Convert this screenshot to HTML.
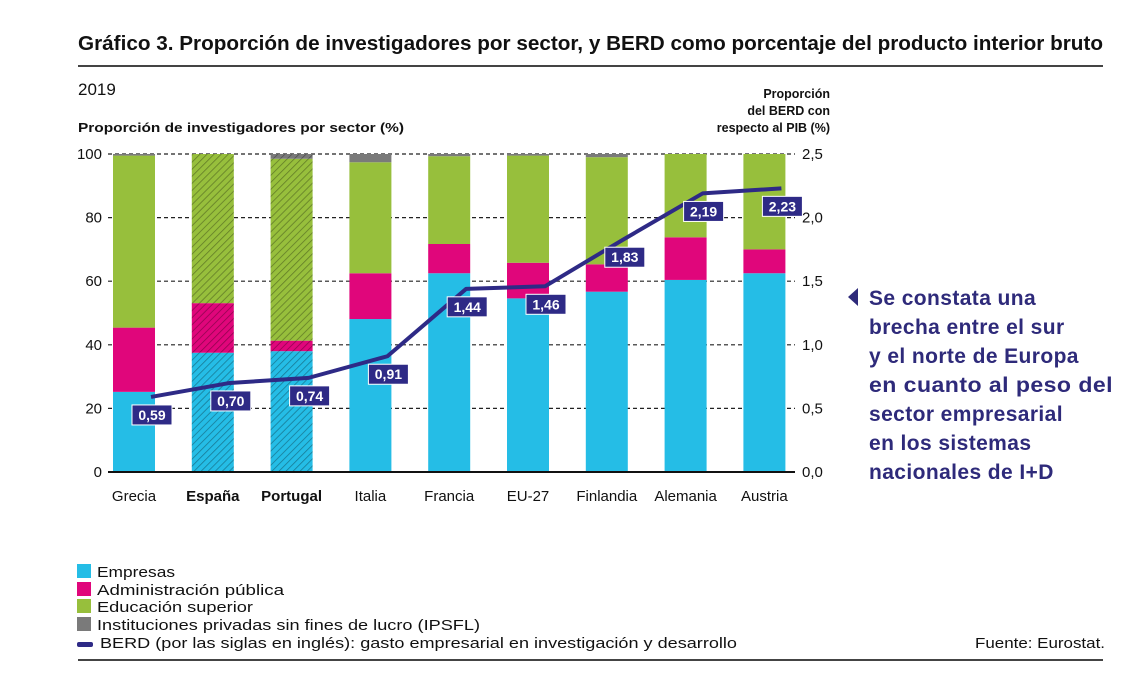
<!DOCTYPE html>
<html><head><meta charset="utf-8"><style>
html,body{margin:0;padding:0;background:#fff;}
body{width:1147px;height:685px;overflow:hidden;font-family:"Liberation Sans",sans-serif;}
</style></head><body>
<svg id="chart" width="1147" height="685" viewBox="0 0 1147 685" xmlns="http://www.w3.org/2000/svg">
<defs>
<pattern id="hatch" width="5" height="5" patternUnits="userSpaceOnUse" patternTransform="rotate(45)">
<rect width="5" height="5" fill="none"/><line x1="0" y1="0" x2="0" y2="5" stroke="rgba(0,0,0,0.35)" stroke-width="1.6"/>
</pattern>
</defs>
<text x="78" y="50" font-size="20" font-weight="bold" fill="#111" textLength="1025" lengthAdjust="spacingAndGlyphs">Gráfico 3. Proporción de investigadores por sector, y BERD como porcentaje del producto interior bruto</text>
<rect x="78" y="65" width="1025" height="2" fill="#444"/>
<text x="78" y="95" font-size="17" fill="#111">2019</text>
<text x="78" y="132" font-size="12.5" font-weight="bold" fill="#111" textLength="326" lengthAdjust="spacingAndGlyphs">Proporción de investigadores por sector (%)</text>
<g font-size="12.5" font-weight="bold" fill="#111" text-anchor="end">
<text x="830" y="98">Proporción</text><text x="830" y="115">del BERD con</text><text x="830" y="132">respecto al PIB (%)</text>
</g>
<g id="grid"></g><g id="bars"></g><g id="axes"></g><g id="line"></g>
<g font-size="21" font-weight="bold" fill="#2e2a7a" letter-spacing="0.4">
<path d="M858 288 L858 306 L848 297 Z" fill="#2e2a7a"/>
<text x="869" y="305">Se constata una</text><text x="869" y="334">brecha entre el sur</text><text x="869" y="363">y el norte de Europa</text><text x="869" y="392" textLength="244" lengthAdjust="spacingAndGlyphs">en cuanto al peso del</text><text x="869" y="421">sector empresarial</text><text x="869" y="450">en los sistemas</text><text x="869" y="479">nacionales de I+D</text>
</g>
<g font-size="15" fill="#111" lengthAdjust="spacingAndGlyphs">
<rect x="77" y="564" width="14" height="14" fill="#25bde6"/><text x="97" y="577" textLength="78" lengthAdjust="spacingAndGlyphs">Empresas</text>
<rect x="77" y="582" width="14" height="14" fill="#e0067b"/><text x="97" y="595" textLength="187" lengthAdjust="spacingAndGlyphs">Administración pública</text>
<rect x="77" y="599" width="14" height="14" fill="#97bf3c"/><text x="97" y="612" textLength="156" lengthAdjust="spacingAndGlyphs">Educación superior</text>
<rect x="77" y="617" width="14" height="14" fill="#7a7a7a"/><text x="97" y="630" textLength="383" lengthAdjust="spacingAndGlyphs">Instituciones privadas sin fines de lucro (IPSFL)</text>
<rect x="77" y="642" width="16" height="5" rx="2" fill="#2e2a86"/><text x="100" y="648" textLength="637" lengthAdjust="spacingAndGlyphs">BERD (por las siglas en inglés): gasto empresarial en investigación y desarrollo</text>
<text x="975" y="648" textLength="130" lengthAdjust="spacingAndGlyphs">Fuente: Eurostat.</text>
</g>
<rect x="78" y="659" width="1025" height="2" fill="#444"/>
</svg>
<script>
const categories=["Grecia","España","Portugal","Italia","Francia","EU-27","Finlandia","Alemania","Austria"];
const empresas=[25.2,37.5,38,48.1,62.5,54.6,56.7,60.4,62.5];
const administracion=[20.2,15.6,3.3,14.4,9.2,11.2,8.6,13.4,7.5];
const educacion=[54.1,46.9,57.2,34.9,27.6,33.7,33.7,26.2,30];
const ipsfl=[0.5,0,1.5,2.6,0.7,0.5,1,0,0];
const berd=[0.59,0.70,0.74,0.91,1.44,1.46,1.83,2.19,2.23];
const leftTicks=[0,20,40,60,80,100];
const rightTicks=["0,0","0,5","1,0","1,5","2,0","2,5"];
const boldCats=["España","Portugal"];

const NS="http://www.w3.org/2000/svg";
const y0=472,y100=154,x0=113,step=78.8,bw=42;
const yL=v=>y0-(y0-y100)*v/100;
const yR=v=>y0-(y0-y100)*v/2.5;
const xB=i=>x0+i*step;
function mk(tag,attrs,parent){const e=document.createElementNS(NS,tag);for(const k in attrs)e.setAttribute(k,attrs[k]);parent.appendChild(e);return e;}
const grid=document.getElementById('grid'),bars=document.getElementById('bars'),axes=document.getElementById('axes'),line=document.getElementById('line');
leftTicks.forEach((t,i)=>{
  if(t>0){const g=mk('line',{x1:108,x2:795,y1:yL(t),y2:yL(t),stroke:'#222','stroke-width':1.2,'stroke-dasharray':'4,3'},grid);
  
  }
  const tl=mk('text',{x:102,y:yL(t)+5,'font-size':15,'text-anchor':'end',fill:'#111'},axes);tl.textContent=t;
  
  
  const tr=mk('text',{x:802,y:yL(t)+5,'font-size':15,fill:'#111'},axes);tr.textContent=rightTicks[i];
  
  
});
const series=[[empresas,'#25bde6','empresas'],[administracion,'#e0067b','administracion'],[educacion,'#97bf3c','educacion'],[ipsfl,'#7a7a7a','ipsfl']];
categories.forEach((c,i)=>{
  let acc=0;
  series.forEach(([arr,col,nm])=>{
    const v=arr[i];if(v<=0)return;
    const r=mk('rect',{x:xB(i),y:yL(acc+v),width:bw,height:yL(acc)-yL(acc+v),fill:col},bars);
    
    
    if(boldCats.includes(c)){const h=mk('rect',{x:xB(i),y:yL(acc+v),width:bw,height:yL(acc)-yL(acc+v),fill:'url(#hatch)'},bars);
      
      }
    acc+=v;
  });
  const lab=mk('text',{x:xB(i)+bw/2,y:501,'font-size':15,'text-anchor':'middle',fill:'#111','font-weight':boldCats.includes(c)?'bold':'normal'},axes);
  lab.textContent=c;
  
  
});
const ax=mk('line',{x1:108,x2:795,y1:y0,y2:y0,stroke:'#111','stroke-width':2},axes);


const pts=berd.map((v,i)=>[xB(i)+bw-4,yR(v)]);
const pl=mk('polyline',{points:pts.map(p=>p.join(',')).join(' '),fill:'none',stroke:'#2e2a86','stroke-width':4,'stroke-linejoin':'round'},line);


berd.forEach((v,i)=>{
  const [px,py]=pts[i];
  const r=mk('rect',{x:px-19,y:py+8,width:40,height:20,fill:'#2e2a86',stroke:'#fff','stroke-width':1},line);
  
  
  const t=mk('text',{x:px+1,y:py+23,'font-size':14,'font-weight':'bold',fill:'#fff','text-anchor':'middle'},line);
  t.textContent=v.toFixed(2).replace('.',',');
  
  
});
</script>
</body></html>
